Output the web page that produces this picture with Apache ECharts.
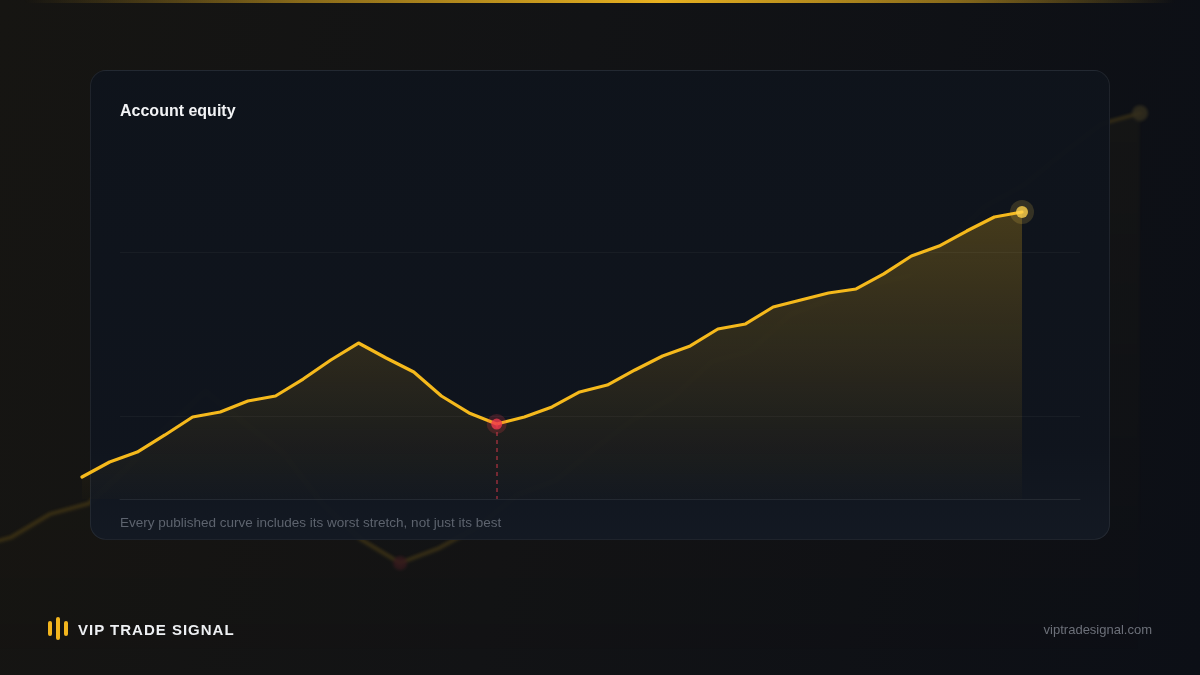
<!DOCTYPE html>
<html>
<head>
<meta charset="utf-8">
<script src="https://cdn.jsdelivr.net/npm/echarts@6/dist/echarts.min.js"></script>
<style>
  html, body { margin:0; padding:0; }
  body { width:1200px; height:675px; overflow:hidden; position:relative;
    background: linear-gradient(100deg, #161512 0%, #121315 45%, #0c0f16 100%);
    font-family: "Liberation Sans", Arial, sans-serif; }
  #topline { position:absolute; left:0; top:0; width:1200px; height:3px;
    background: linear-gradient(90deg, rgba(232,177,32,0) 2%, rgba(232,177,32,0.55) 25%, #e8b120 55%, rgba(232,177,32,0.55) 80%, rgba(232,177,32,0) 98%); z-index:5; }
  #bg { position:absolute; left:-300px; top:-300px; width:1600px; height:1200px; opacity:0.16; filter:blur(1.5px); z-index:0; }
  #card { position:absolute; left:90px; top:70px; width:1018px; height:468px; border-radius:16px;
    border:1px solid rgba(255,255,255,0.07);
    background: linear-gradient(180deg, rgba(15,20,28,0.97) 0%, rgba(16,21,30,0.97) 80%, rgba(20,26,36,0.97) 100%); z-index:1; }
  #fg { position:absolute; left:0; top:0; width:1200px; height:675px; z-index:2; }
  #logo { position:absolute; left:48px; top:616px; height:26px; z-index:3; }
  .bar { position:absolute; background:#f2b51e; border-radius:2px; width:4px; }
  #brand { position:absolute; left:78px; top:620px; z-index:3; color:#eef0f3; font-weight:bold; font-size:15px; letter-spacing:1px; line-height:20px; }
  #url { position:absolute; right:48px; top:621px; z-index:3; color:#6c7079; font-size:13px; line-height:18px; }
</style>
</head>
<body>
<div id="topline"></div>
<div id="bg"></div>
<div id="card"></div>
<div id="fg"></div>
<div id="logo">
  <div class="bar" style="left:0px; top:5px; height:15px;"></div>
  <div class="bar" style="left:8px; top:1px; height:23px;"></div>
  <div class="bar" style="left:16px; top:5px; height:15px;"></div>
</div>
<div id="brand">VIP TRADE SIGNAL</div>
<div id="url">viptradesignal.com</div>
<script>
const weeks = ['W01','W02','W03','W04','W05','W06','W07','W08','W09','W10','W11','W12','W13','W14','W15','W16','W17','W18','W19','W20','W21','W22','W23','W24','W25','W26','W27','W28','W29','W30','W31','W32','W33','W34','W35'];
const equity = [9267, 9449, 9570, 9777, 9995, 10056, 10189, 10250, 10456, 10687, 10893, 10711, 10541, 10250, 10044, 9910, 9995, 10117, 10299, 10383, 10566, 10735, 10857, 11063, 11124, 11330, 11415, 11500, 11549, 11731, 11949, 12070, 12252, 12422, 12483];
const axisMin = 9000;
const axisMax = 14000;
const gridValues = [10000, 12000];
const titleText = 'Account equity';
const captionText = 'Every published curve includes its worst stretch, not just its best';

const GOLD = '#f5b91c';

// trough of the worst drawdown (largest drop from the running peak)
let peak = -Infinity, worstDD = -1, lowIdx = 0;
equity.forEach((v, i) => {
  if (v > peak) peak = v;
  if (peak - v > worstDD) { worstDD = peak - v; lowIdx = i; }
});
const lowVal = equity[lowIdx];
const lastIdx = equity.length - 1;
const lastVal = equity[lastIdx];

function areaGrad(a1, a2) {
  return new echarts.graphic.LinearGradient(0, 0, 0, 1, [
    { offset: 0, color: 'rgba(245,185,28,' + a1 + ')' },
    { offset: 1, color: 'rgba(245,185,28,' + a2 + ')' }
  ]);
}

function equitySeries(opts) {
  return [
    {
      type: 'line', data: equity, symbol: 'none', smooth: false,
      lineStyle: { color: GOLD, width: opts.lw, cap: 'round', join: 'round' },
      areaStyle: { origin: 'start', color: areaGrad(opts.a1, opts.a2) },
      markLine: opts.drop ? {
        silent: true, symbol: 'none', label: { show: false },
        lineStyle: { color: 'rgba(232,60,78,0.6)', type: [4, 4], width: 1.5 },
        data: [[{ coord: [lowIdx, lowVal] }, { coord: [lowIdx, axisMin] }]]
      } : undefined,
      z: 3
    },
    { type: 'scatter', data: [[lowIdx, lowVal]], symbolSize: opts.lowHalo, itemStyle: { color: 'rgba(239,59,77,0.25)' }, silent: true, z: 4 },
    { type: 'scatter', data: [[lowIdx, lowVal]], symbolSize: opts.lowDot, itemStyle: { color: '#ef3a4c' }, silent: true, z: 5 },
    { type: 'scatter', data: [[lastIdx, lastVal]], symbolSize: opts.endHalo, itemStyle: { color: 'rgba(255,210,80,0.2)' }, silent: true, z: 4 },
    { type: 'scatter', data: [[lastIdx, lastVal]], symbolSize: opts.endDot, itemStyle: { color: '#ffd24c' }, silent: true, z: 5 }
  ];
}

// Background (blurred, faint, enlarged) copy of the curve
const bg = echarts.init(document.getElementById('bg'), null, { renderer: 'canvas' });
bg.setOption({
  animation: false,
  grid: { left: 116, right: 160, top: 148, bottom: 178 },
  xAxis: { type: 'category', data: weeks, boundaryGap: false, show: false },
  yAxis: { type: 'value', min: axisMin, max: axisMax, show: false },
  series: equitySeries({ lw: 4, a1: 0.3, a2: 0.0, drop: false, lowHalo: 0, lowDot: 14, endHalo: 0, endDot: 16 })
});

// Foreground chart
const fg = echarts.init(document.getElementById('fg'), null, { renderer: 'canvas' });
fg.setOption({
  animation: false,
  grid: [
    { left: 82, right: 178, top: 87, bottom: 176 },
    { left: 120, right: 120, top: 87, bottom: 176 }
  ],
  xAxis: [
    { type: 'category', data: weeks, boundaryGap: false, show: false, gridIndex: 0 },
    { type: 'value', gridIndex: 1, min: 0, max: 1,
      axisLine: { show: true, onZero: false, lineStyle: { color: 'rgba(255,255,255,0.08)', width: 1 } },
      axisTick: { show: false }, axisLabel: { show: false }, splitLine: { show: false } }
  ],
  yAxis: [
    { type: 'value', min: axisMin, max: axisMax, show: false, gridIndex: 0 },
    { type: 'value', min: axisMin, max: axisMax, gridIndex: 1,
      axisLine: { show: false }, axisTick: { show: false }, axisLabel: { show: false }, splitLine: { show: false } }
  ],
  graphic: [
    { type: 'text', left: 120, top: 104, style: { text: titleText, fill: '#f2f3f5', font: 'bold 16px "Liberation Sans", Arial, sans-serif' } },
    { type: 'text', left: 120, top: 516, style: { text: captionText, fill: '#5d636e', font: '13.5px "Liberation Sans", Arial, sans-serif' } }
  ],
  series: [
    { type: 'line', xAxisIndex: 1, yAxisIndex: 1, data: [], silent: true,
      markLine: { silent: true, symbol: 'none', label: { show: false },
        lineStyle: { color: 'rgba(255,255,255,0.04)', type: 'solid', width: 1 },
        data: gridValues.map(v => ({ yAxis: v })) } }
  ].concat(equitySeries({ lw: 3.2, a1: 0.34, a2: 0.02, drop: true, lowHalo: 20, lowDot: 11, endHalo: 24, endDot: 12 }))
});
</script>
</body>
</html>
